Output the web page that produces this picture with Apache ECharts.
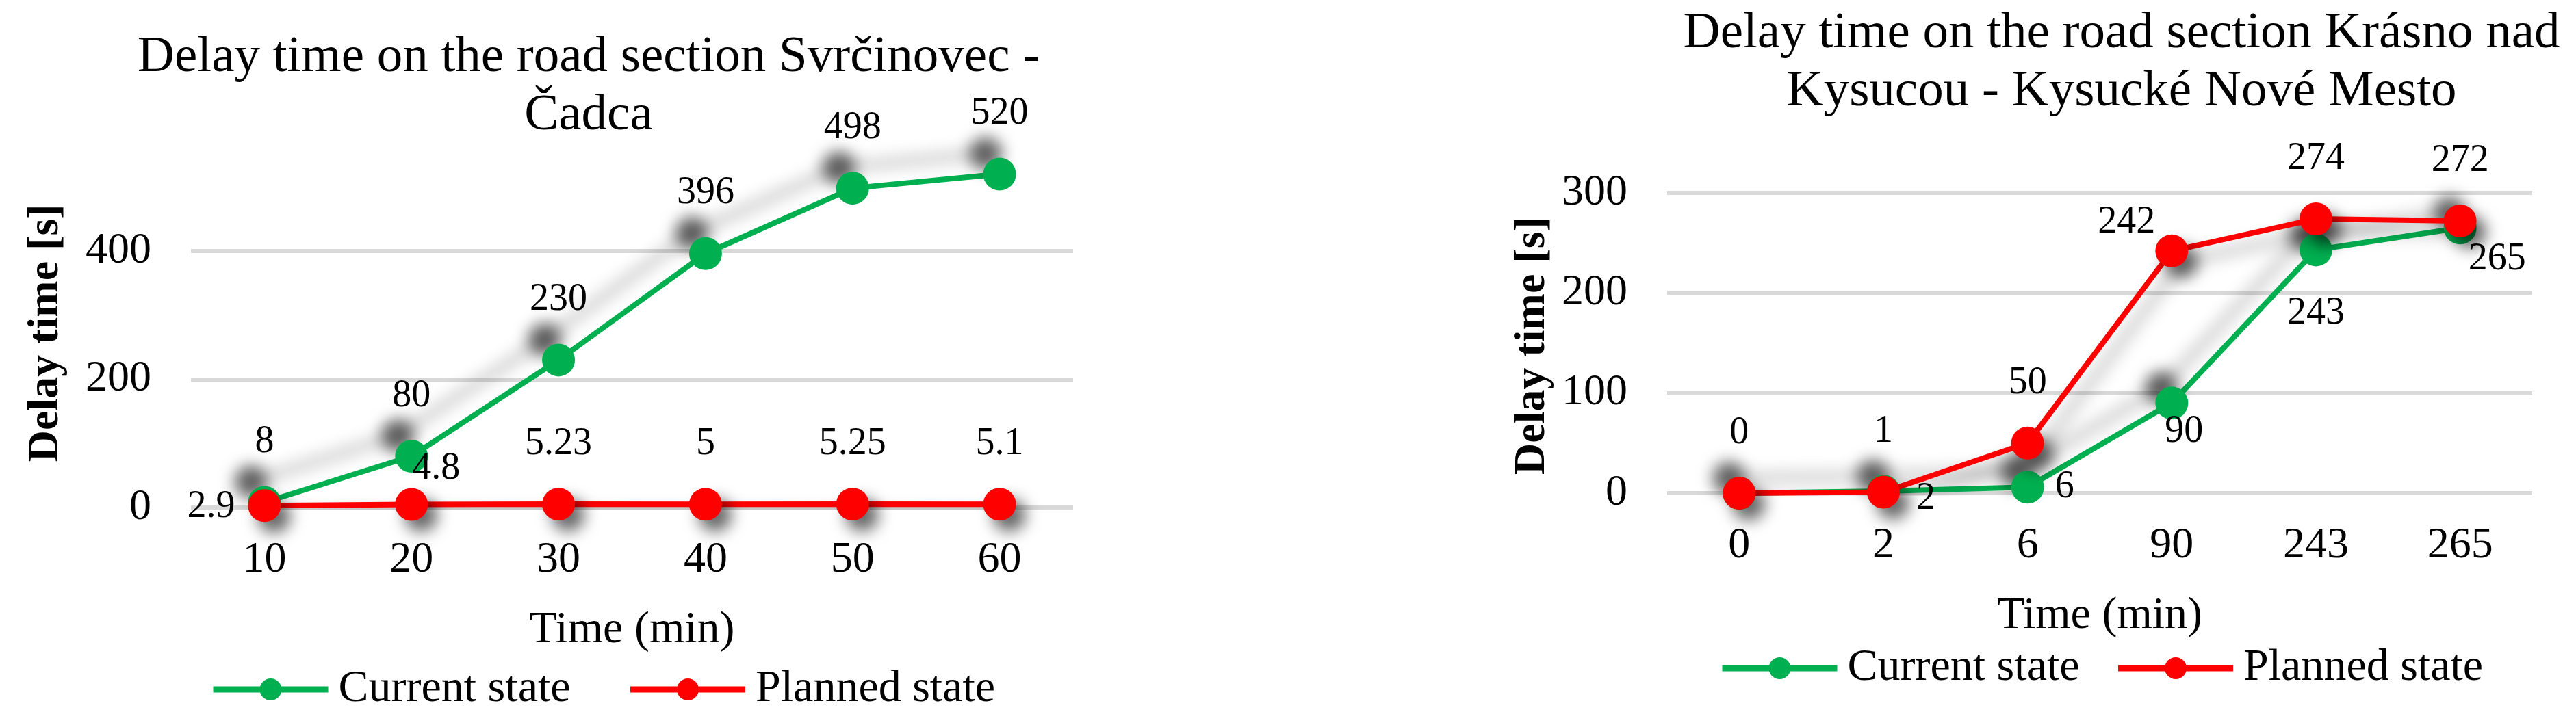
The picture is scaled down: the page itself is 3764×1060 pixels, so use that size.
<!DOCTYPE html>
<html>
<head>
<meta charset="utf-8">
<script src="https://cdn.jsdelivr.net/npm/echarts@6/dist/echarts.min.js"></script>
<style>
html,body{margin:0;padding:0;background:#fff;}
#c{width:3764px;height:1060px;}
</style>
</head>
<body>
<div id="c"></div>
<script>
// ---- data ----
var title1 = 'Delay time on the road section Svrčinovec -\nČadca';
var title2 = 'Delay time on the road section Krásno nad\nKysucou - Kysucké Nové Mesto';
var seriesNames = ['Current state', 'Planned state'];
var xName = 'Time (min)';
var yName = 'Delay time [s]';

var cats1 = ['10', '20', '30', '40', '50', '60'];
var current1 = [8, 80, 230, 396, 498, 520];
var planned1 = [2.9, 4.8, 5.23, 5, 5.25, 5.1];

var cats2 = ['0', '2', '6', '90', '243', '265'];
var current2 = [0, 2, 6, 90, 243, 265];
var planned2 = [0, 1, 50, 242, 274, 272];

// ---- styling / label placement (not data) ----
var FONT = '"Liberation Serif", "Times New Roman", serif';
var GREEN = '#00B050', RED = '#FF0000', GRID = '#D9D9D9';
var ABOVE = [0, -88];
var labelOffsets = {
  c1: [ABOVE, ABOVE, ABOVE, ABOVE, ABOVE, ABOVE],
  p1: [[-78, 2], [36, -52], ABOVE, ABOVE, ABOVE, ABOVE],
  c2: [null, [62, 11], [54, 0], [18, 42], [0, 93], [54, 46]],
  p2: [ABOVE, ABOVE, ABOVE, [-66, -42], ABOVE, ABOVE]
};

function build(values, offs) {
  return values.map(function (v, i) {
    var o = offs[i];
    if (!o) return { value: v, label: { show: false } };
    return { value: v, label: { show: true, offset: o } };
  });
}

function lineSeries(name, values, offs, color, xi, shadow, z) {
  return {
    type: 'line', name: name, xAxisIndex: xi, yAxisIndex: xi, z: z,
    data: build(values, offs),
    symbol: 'circle', symbolSize: 48, showSymbol: true,
    lineStyle: { color: color, width: 8, shadowColor: 'rgba(0,0,0,0.38)', shadowBlur: 24,
      shadowOffsetX: shadow[0], shadowOffsetY: shadow[1] },
    itemStyle: { color: color, shadowColor: 'rgba(0,0,0,0.6)', shadowBlur: 22,
      shadowOffsetX: shadow[0], shadowOffsetY: shadow[1] },
    label: { show: true, position: 'inside', color: '#000', fontFamily: FONT, fontSize: 56,
      formatter: function (p) { return String(p.value); } },
    emphasis: { disabled: true }
  };
}

function xAxis(cats, gi) {
  return {
    type: 'category', gridIndex: gi, data: cats, boundaryGap: true,
    axisLine: { show: false }, axisTick: { show: false },
    axisLabel: { color: '#000', fontFamily: FONT, fontSize: 64, margin: 45 },
    name: xName, nameLocation: 'middle', nameGap: 147,
    nameTextStyle: { color: '#000', fontFamily: FONT, fontSize: 66 }
  };
}

function yAxis(gi, max, interval, colors, gap, pad) {
  return {
    type: 'value', gridIndex: gi, min: 0, max: max, interval: interval,
    axisLine: { show: false }, axisTick: { show: false },
    axisLabel: { color: '#000', fontFamily: FONT, fontSize: 64, margin: 58, showMaxLabel: colors.length > 3 ? false : true },
    splitLine: { show: true, lineStyle: { color: colors, width: 6 } },
    name: yName, nameLocation: 'middle', nameGap: gap, nameRotate: 90,
    nameTextStyle: { color: '#000', fontFamily: FONT, fontSize: 64, fontWeight: 'bold', padding: pad }
  };
}

var legendBase = {
  data: seriesNames, orient: 'horizontal', padding: 0,
  itemWidth: 168, itemHeight: 40,
  itemStyle: { shadowBlur: 0, shadowColor: 'rgba(0,0,0,0)' },
  lineStyle: { shadowBlur: 0, shadowColor: 'rgba(0,0,0,0)', width: 9 },
  textStyle: { color: '#000', fontFamily: FONT, fontSize: 66, padding: [0, 0, 0, 10] },
  selectedMode: false
};

var chart = echarts.init(document.getElementById('c'), null, { renderer: 'canvas', width: 3764, height: 1060 });
chart.setOption({
  animation: false,
  backgroundColor: '#ffffff',
  textStyle: { fontFamily: FONT },
  title: [
    { text: title1, left: 860, top: 42, padding: 0, textAlign: 'center',
      textStyle: { color: '#000', fontFamily: FONT, fontSize: 75, fontWeight: 'normal', lineHeight: 85 } },
    { text: title2, left: 3100, top: 7, padding: 0, textAlign: 'center',
      textStyle: { color: '#000', fontFamily: FONT, fontSize: 75, fontWeight: 'normal', lineHeight: 85 } }
  ],
  legend: [
    Object.assign({}, legendBase, { left: 307, top: 975, itemGap: 83 }),
    Object.assign({}, legendBase, { left: 2512, top: 944, itemGap: 52 })
  ],
  grid: [
    { left: 279, top: 179.5, width: 1289, height: 562.5, containLabel: false },
    { left: 2436, top: 282, width: 1264, height: 439, containLabel: false }
  ],
  xAxis: [xAxis(cats1, 0), xAxis(cats2, 1)],
  yAxis: [
    yAxis(0, 600, 200, [GRID, GRID, GRID, 'rgba(0,0,0,0)'], 180, [0, 52, 0, 0]),
    yAxis(1, 300, 100, [GRID], 165, [0, 8, 0, 0])
  ],
  series: [
    lineSeries(seriesNames[0], current1, labelOffsets.c1, GREEN, 0, [-20, -30], 2),
    lineSeries(seriesNames[1], planned1, labelOffsets.p1, RED, 0, [14, 16], 3),
    lineSeries(seriesNames[0], current2, labelOffsets.c2, GREEN, 1, [-15, -22], 2),
    lineSeries(seriesNames[1], planned2, labelOffsets.p2, RED, 1, [14, 16], 3)
  ]
});
</script>
</body>
</html>
